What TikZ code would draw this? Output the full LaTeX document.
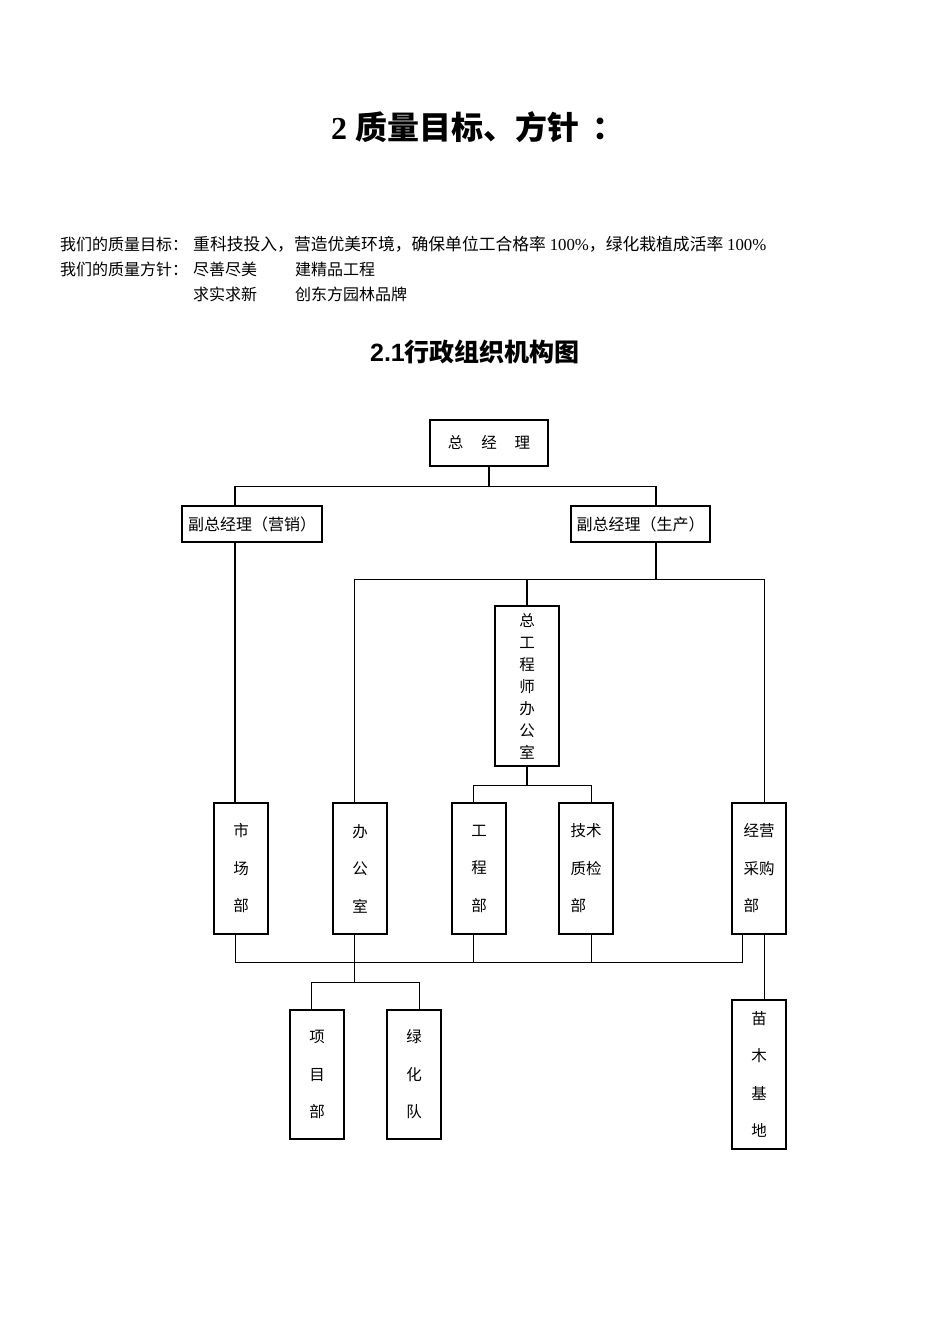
\documentclass[tikz,border=0pt]{standalone}
\usepackage{fontspec}
\setmainfont{Liberation Serif}
\newfontfamily\cjk{Noto Sans CJK SC}
\newfontfamily\hei{Liberation Sans}
\usetikzlibrary{calc}
\tikzset{
  box/.style={draw,line width=1.3pt,inner sep=0pt,align=center},
  hbox/.style={box,minimum height=36,font=\cjk\fontsize{16}{18}\selectfont},
  vbox/.style={box,minimum width=54,font=\cjk\fontsize{15.5}{37.5}\selectfont},
  line/.style={line width=1.3pt},
  txt/.style={anchor=west,inner sep=0pt,font=\cjk\fontsize{16}{20}\selectfont}
}

\begin{document}
\begin{tikzpicture}[x=1pt,y=-1pt]
\useasboundingbox (0,0) rectangle (950,1344);
\node[font=\cjk\bfseries\fontsize{32}{36}\selectfont] (title) at (478,127) {{\rmfamily\bfseries 2 }质量目标、方针\hspace{14pt}：};
\node[txt] (aim) at (60,244) {我们的质量目标：};
\node[txt,font=\cjk\fontsize{16.8}{20}\selectfont] (aimtxt) at (193,244) {重科技投入，营造优美环境，确保单位工合格率 {\rmfamily 100\%}，绿化栽植成活率 {\rmfamily 100\%}};
\node[txt] (pol) at (60,269) {我们的质量方针：};
\node[txt] (pola) at (193,269) {尽善尽美};
\node[txt] (polb) at (295,269) {建精品工程};
\node[txt] (polc) at (193,294) {求实求新};
\node[txt] (pold) at (295,294) {创东方园林品牌};
\node[font=\cjk\bfseries\fontsize{25}{30}\selectfont] (subtitle) at (475,352) {{\hei\bfseries 2.1}行政组织机构图};

\node[box,minimum width=118,minimum height=46,font=\cjk\fontsize{15.5}{18}\selectfont] (zjl) at (489,443) {总\hspace{18pt}经\hspace{18pt}理};
\node[hbox,minimum width=140] (fyx) at (252,524) {副总经理（营销）};
\node[hbox,minimum width=139] (fsc) at (640.5,524) {副总经理（生产）};
\node[box,minimum width=64,minimum height=160,font=\cjk\fontsize{15.5}{22}\selectfont] (zgs) at (527,686) {总\\工\\程\\师\\办\\公\\室};
\node[vbox,minimum height=131] (scb) at (241,868.5) {市\\场\\部};
\node[vbox,minimum height=131] (bgs) at (360,868.5) {办\\公\\室};
\node[vbox,minimum height=131] (gcb) at (479,868.5) {工\\程\\部};
\node[vbox,minimum height=131,align=left] (jsb) at (586,868.5) {技术\\质检\\部};
\node[vbox,minimum height=131,align=left] (jyb) at (759,868.5) {经营\\采购\\部};
\node[vbox,minimum height=129] (xmb) at (317,1074.5) {项\\目\\部};
\node[vbox,minimum height=129] (lhd) at (414,1074.5) {绿\\化\\队};
\node[vbox,minimum height=149] (mmjd) at (759,1074.5) {苗\\木\\基\\地};

\coordinate (fyxN) at ($(fyx.north west)!.38!(fyx.north east)$);
\coordinate (fyxS) at ($(fyx.south west)!.38!(fyx.south east)$);
\coordinate (fscN) at ($(fsc.north west)!.61!(fsc.north east)$);
\coordinate (fscS) at ($(fsc.south west)!.61!(fsc.south east)$);
\coordinate (bgsN) at ($(bgs.north west)!.4!(bgs.north east)$);
\coordinate (bgsS) at ($(bgs.south west)!.4!(bgs.south east)$);
\coordinate (scbS) at ($(scb.south west)!.4!(scb.south east)$);
\coordinate (gcbN) at ($(gcb.north west)!.4!(gcb.north east)$);
\coordinate (gcbS) at ($(gcb.south west)!.4!(gcb.south east)$);
\coordinate (jsbN) at ($(jsb.north west)!.6!(jsb.north east)$);
\coordinate (jsbS) at ($(jsb.south west)!.6!(jsb.south east)$);
\coordinate (jybN) at ($(jyb.north west)!.6!(jyb.north east)$);
\coordinate (jybS) at ($(jyb.south west)!.2!(jyb.south east)$);
\coordinate (jybT) at ($(jyb.south west)!.6!(jyb.south east)$);
\coordinate (xmbN) at ($(xmb.north west)!.4!(xmb.north east)$);
\coordinate (lhdN) at ($(lhd.north west)!.6!(lhd.north east)$);
\coordinate (h1) at ($(zjl.south)+(0,20)$);
\coordinate (h2) at ($(fscS)+(0,37)$);
\coordinate (h3) at ($(zgs.south)+(0,19)$);
\coordinate (h4) at ($(scb.south)+(0,28)$);
\coordinate (h5) at ($(h4)+(0,20)$);

\draw[line] (zjl.south) -- (h1);
\draw[line] (fyxN) |- (h1) -| (fscN);
\draw[line] (fyxS) -- (fyxS |- scb.north);
\draw[line] (fscS) -- (h2);
\draw[line] (bgsN) |- (h2) -| (jybN);
\draw[line] (zgs.north) -- (zgs.north |- h2);
\draw[line] (zgs.south) -- (h3);
\draw[line] (gcbN) |- (h3) -| (jsbN);
\draw[line] (scbS) |- (jybS |- h4) -- (jybS);
\draw[line] (gcbS) -- (gcbS |- h4);
\draw[line] (jsbS) -- (jsbS |- h4);
\draw[line] (bgsS) -- (bgsS |- h5);
\draw[line] (xmbN) |- (bgsS |- h5) -| (lhdN);
\draw[line] (jybT) -- (jybT |- mmjd.north);
\end{tikzpicture}
\end{document}
